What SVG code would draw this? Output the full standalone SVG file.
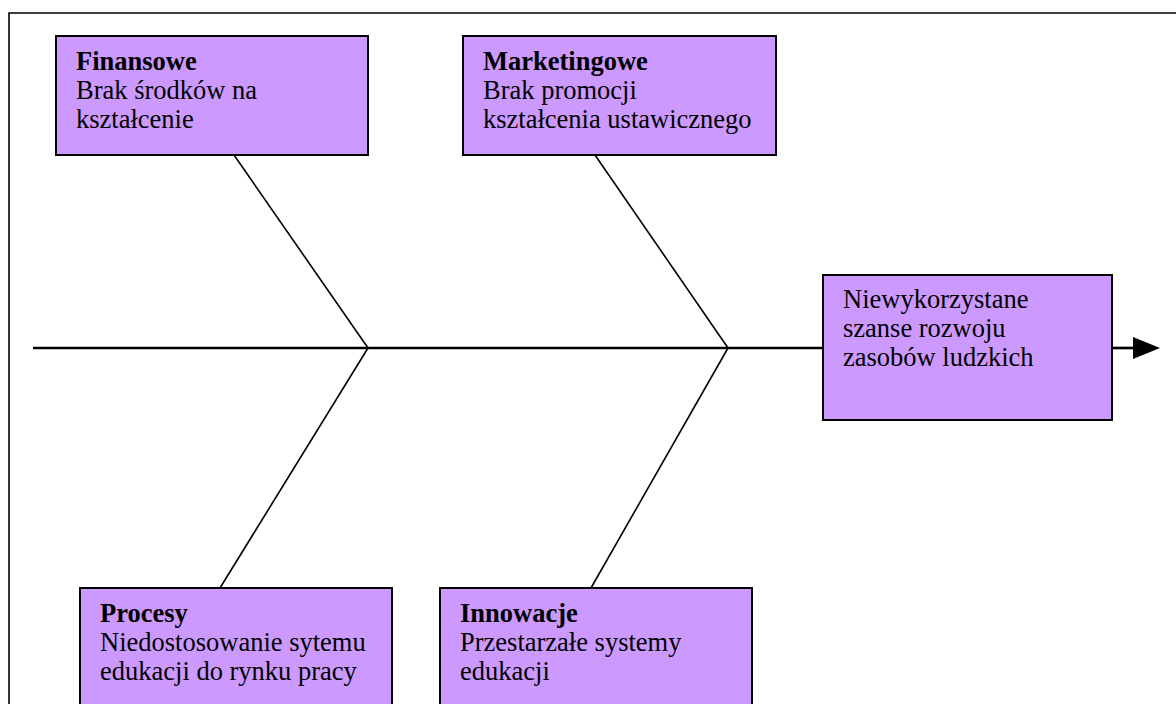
<svg xmlns="http://www.w3.org/2000/svg" width="1176" height="704" viewBox="0 0 1176 704">
<style>
.box{fill:#CC99FF;stroke:#000;stroke-width:2}
.t{font-family:"Liberation Serif","Times New Roman",serif;font-size:26.5px;fill:#000}
.b{font-weight:bold}
.bone{stroke:#000;stroke-width:1.6;fill:none}
</style>
<rect width="1176" height="704" fill="#fff"/>
<path d="M9,704 L9,13 L1176,13" fill="none" stroke="#000" stroke-width="1.6"/>
<g id="connectors">
<line x1="33" y1="348" x2="823" y2="348" stroke="#000" stroke-width="2.7"/>
<line x1="1112" y1="348" x2="1134" y2="348" stroke="#000" stroke-width="2.7"/>
<path d="M1133,337 L1160,348 L1133,359 Z" fill="#000"/>
<line class="bone" x1="234" y1="155" x2="368" y2="348"/>
<line class="bone" x1="368" y1="348" x2="220" y2="588"/>
<line class="bone" x1="595" y1="155" x2="728" y2="348"/>
<line class="bone" x1="728" y1="348" x2="591" y2="588"/>
</g>
<g id="finansowe">
<rect class="box" x="56" y="36" width="312" height="119"/>
<text class="t" x="76" y="70"><tspan class="b">Finansowe</tspan><tspan x="76" y="99">Brak środków na</tspan><tspan x="76" y="128">kształcenie</tspan></text>
</g>
<g id="marketingowe">
<rect class="box" x="463" y="36" width="313" height="119"/>
<text class="t" x="483" y="70"><tspan class="b">Marketingowe</tspan><tspan x="483" y="99">Brak promocji</tspan><tspan x="483" y="128">kształcenia ustawicznego</tspan></text>
</g>
<g id="efekt">
<rect class="box" x="823" y="275" width="289" height="145"/>
<text class="t" x="843" y="308"><tspan>Niewykorzystane</tspan><tspan x="843" y="337">szanse rozwoju</tspan><tspan x="843" y="366">zasobów ludzkich</tspan></text>
</g>
<g id="procesy">
<rect class="box" x="80" y="588" width="312" height="130"/>
<text class="t" x="100" y="622"><tspan class="b">Procesy</tspan><tspan x="100" y="651">Niedostosowanie sytemu</tspan><tspan x="100" y="680">edukacji do rynku pracy</tspan></text>
</g>
<g id="innowacje">
<rect class="box" x="440" y="588" width="312" height="130"/>
<text class="t" x="460" y="622"><tspan class="b">Innowacje</tspan><tspan x="460" y="651">Przestarzałe systemy</tspan><tspan x="460" y="680">edukacji</tspan></text>
</g>
</svg>
